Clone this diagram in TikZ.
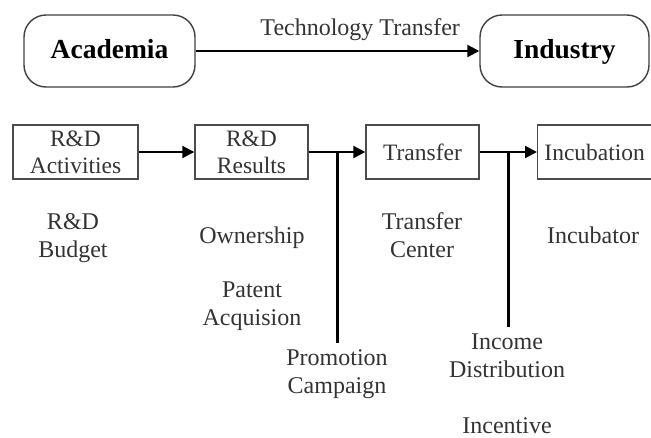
\documentclass[tikz,border=0pt]{standalone}
\usepackage{fontspec}
\setmainfont{Liberation Serif}
\usetikzlibrary{arrows.meta}
\begin{document}
\begin{tikzpicture}[x=1pt,y=-1pt,
  party/.style={draw=black!75,line width=1.4pt,rounded corners=22pt,
    minimum width=#1,minimum height=72pt,inner sep=0pt,
    text height=19pt,text depth=5pt,
    font=\fontsize{27.5}{30}\selectfont\bfseries,text=black},
  stage/.style={draw=black!70,line width=1.4pt,minimum width=#1,
    minimum height=54pt,inner sep=0pt,align=center,
    font=\fontsize{23.5}{27}\selectfont,text=black!80},
  lbl/.style={inner sep=0pt,align=center,
    font=\fontsize{24}{27.5}\selectfont,text=black!80},
  flow/.style={line width=2.2pt,-{Triangle[length=12pt,width=12pt]}},
  stem/.style={line width=2.6pt}]
\useasboundingbox (0,0) rectangle (651,437);

% top level: academia to industry
\node[party=171pt] (acad) at (109.5,51) {Academia};
\node[party=169pt] (ind) at (564.5,51) {Industry};
\draw[flow] (acad) -- node[lbl,above=9pt,pos=0.58] (tt) {Technology Transfer} (ind);

% process stages
\node[stage=125pt] (act) at (75.5,152) {R\&D\\Activities};
\node[stage=113pt] (res) at (251.5,152) {R\&D\\Results};
\node[stage=113pt] (trn) at (422.5,152) {Transfer};
\node[stage=120pt,anchor=west] (inc) at (537,152) {\hspace*{-6pt}Incubation};

\draw[flow] (act) -- (res);
\draw[flow] (res) -- (trn);
\draw[flow] (trn) -- (inc);

% branches feeding the flow
\coordinate (j1) at (337.5,152);
\coordinate (j1e) at (337.5,343);
\coordinate (j2) at (508.5,152);
\coordinate (j2e) at (508.5,327);
\draw[stem] (j1e) -- (j1);
\draw[stem] (j2e) -- (j2);

% instruments under each stage (base = last line's baseline)
\node[lbl,anchor=base] (bud) at (73,257) {R\&D\\Budget};
\node[lbl,anchor=base] (own) at (252,243) {Ownership};
\node[lbl,anchor=base] (pat) at (252,325) {Patent\\Acquision};
\node[lbl,anchor=base] (prm) at (337,393) {Promotion\\Campaign};
\node[lbl,anchor=base] (tc) at (422,257) {Transfer\\Center};
\node[lbl,anchor=base] (icb) at (593,243) {Incubator};
\node[lbl,anchor=base] (idist) at (507,377) {Income\\Distribution};
\node[lbl,anchor=base] (inct) at (507,433) {Incentive};
\end{tikzpicture}
\end{document}
